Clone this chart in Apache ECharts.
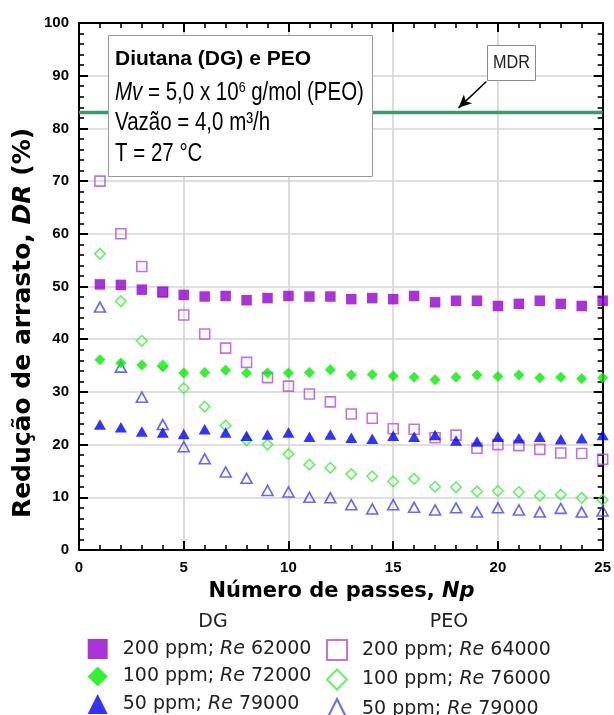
<!DOCTYPE html>
<html>
<head>
<meta charset="utf-8">
<script src="https://cdn.jsdelivr.net/npm/echarts@6/dist/echarts.min.js"></script>
<style>
html,body{margin:0;padding:0;background:#fff;}
#chart{width:614px;height:715px;}
</style>
</head>
<body>
<div id="chart"></div>
<script>
// ---- data ----
const npasses = [1,2,3,4,5,6,7,8,9,10,11,12,13,14,15,16,17,18,19,20,21,22,23,24,25];
const dg200  = [50.4,50.3,49.4,48.9,48.4,48.1,48.2,47.4,47.8,48.2,48.1,48.1,47.6,47.8,47.6,48.2,47.0,47.3,47.3,46.3,46.7,47.3,46.7,46.3,47.3];
const dg100  = [36.1,35.5,35.1,34.8,33.6,33.7,34.1,33.6,33.6,33.6,33.7,34.2,33.2,33.3,33.0,32.8,32.3,32.8,33.2,32.9,33.2,32.7,32.8,32.5,32.7];
const dg50   = [23.8,23.3,22.5,22.3,22.0,22.9,22.3,21.7,21.9,22.3,21.5,21.9,21.3,21.1,21.7,21.5,21.8,20.8,20.6,21.5,21.2,21.5,21.0,21.2,21.8];
const peo200 = [70.0,60.0,53.8,49.0,44.6,41.0,38.3,35.6,32.7,31.1,29.6,28.1,25.8,25.0,23.0,22.9,21.3,21.8,19.3,20.0,19.8,19.1,18.4,18.3,17.2];
const peo100 = [56.2,47.2,39.7,35.0,30.7,27.2,23.6,20.8,20.0,18.2,16.2,15.6,14.4,14.0,13.0,13.5,12.0,11.9,11.1,11.2,11.0,10.3,10.5,9.9,9.5];
const peo50  = [46.1,34.7,29.0,23.8,19.6,17.3,14.8,13.6,11.3,11.0,10.0,9.9,8.6,7.8,8.6,8.1,7.6,8.0,7.2,8.0,7.6,7.2,7.9,7.2,7.4];
const mdrValue = 83;
const mdrRange = [0, 25];
const xTicks = [0, 25, 5];   // min, max, interval
const yTicks = [0, 100, 10]; // min, max, interval

const dgNames  = ['DG 200 ppm; Re 62000','DG 100 ppm; Re 72000','DG 50 ppm; Re 79000'];
const peoNames = ['PEO 200 ppm; Re 64000','PEO 100 ppm; Re 76000','PEO 50 ppm; Re 79000'];

// ---- styling ----
const C = {
  dg200:'#9400d0', peo200:'#b44fd6',
  dg100:'#00ee00', peo100:'#3cf03c',
  dg50:'#0000ff',  peo50:'#4040ff',
  mdr:'#3a9a6c'
};
const toPts = arr => npasses.map((n,i)=>[n, arr[i]]);
const hollow = c => ({color:'rgba(255,255,255,0)', borderColor:c, borderWidth:1.6});

const chart = echarts.init(document.getElementById('chart'), null, {renderer:'canvas'});

const axisCommon = {
  type:'value',
  axisLine:{show:true, onZero:false, lineStyle:{color:'#000', width:2}},
  axisTick:{show:true, inside:true, length:9, lineStyle:{color:'#000', width:2}},
  minorTick:{show:true, splitNumber:5, length:5, lineStyle:{color:'#000', width:1.6}},
  minorSplitLine:{show:false}
};
const tickFont = {color:'#000', fontWeight:'bold', fontSize:15, fontFamily:'Liberation Sans, Arial, sans-serif'};

const legendText = {
  color:'#222', fontSize:19, fontFamily:'DejaVu Sans, sans-serif', lineHeight:20,
  padding:[0,0,0,10],
  rich:{ i:{fontStyle:'italic', color:'#222', fontSize:19, fontFamily:'DejaVu Sans, sans-serif', lineHeight:20} }
};
const legendFmt = name => name.replace(/^(DG|PEO) /,'').replace('Re','{i|Re}');

const option = {
  animation:false,
  backgroundColor:'#fff',
  grid:{left:79, top:23, width:526, height:527, containLabel:false},
  xAxis:[
    Object.assign({}, axisCommon, {position:'bottom', min:xTicks[0], max:xTicks[1], interval:xTicks[2],
      axisLabel:Object.assign({margin:10}, tickFont),
      splitLine:{show:true, lineStyle:{color:'#d4d4d4', width:1.6}}}),
    Object.assign({}, axisCommon, {position:'top', min:xTicks[0], max:xTicks[1], interval:xTicks[2],
      axisLabel:{show:false}, splitLine:{show:false}})
  ],
  yAxis:[
    Object.assign({}, axisCommon, {position:'left', min:yTicks[0], max:yTicks[1], interval:yTicks[2],
      axisLabel:Object.assign({margin:10}, tickFont),
      splitLine:{show:true, lineStyle:{color:'#d4d4d4', width:1.6}}}),
    Object.assign({}, axisCommon, {position:'right', min:yTicks[0], max:yTicks[1], interval:yTicks[2],
      axisLabel:{show:false}, splitLine:{show:false}})
  ],
  legend:[
    {
      orient:'vertical', left:87.7, top:639, height:110, width:240, itemWidth:20, itemHeight:20, itemGap:7.5,
      padding:0, selectedMode:false, formatter:legendFmt, textStyle:legendText,
      data:[
        {name:dgNames[0], icon:'rect', itemStyle:{color:C.dg200, borderWidth:0}},
        {name:dgNames[1], icon:'diamond', itemStyle:{color:C.dg100, borderWidth:0}},
        {name:dgNames[2], icon:'triangle', itemStyle:{color:C.dg50, borderWidth:0}}
      ]
    },
    {
      orient:'vertical', left:326, top:639, height:110, width:250, itemWidth:20, itemHeight:20, itemGap:7.5,
      padding:0, selectedMode:false, formatter:legendFmt, textStyle:legendText,
      data:[
        {name:peoNames[0], icon:'rect', itemStyle:{color:'#fff', borderColor:C.peo200, borderWidth:2}},
        {name:peoNames[1], icon:'diamond', itemStyle:{color:'#fff', borderColor:C.peo100, borderWidth:2}},
        {name:peoNames[2], icon:'triangle', itemStyle:{color:'#fff', borderColor:C.peo50, borderWidth:2}}
      ]
    }
  ],
  series:[
    {
      name:'MDR', type:'line', data:[[mdrRange[0], mdrValue],[mdrRange[1], mdrValue]],
      symbol:'none', lineStyle:{color:C.mdr, width:3.5}, z:1, silent:true,
      markLine:{
        silent:true, symbol:['none','arrow'], symbolSize:[9,13],
        lineStyle:{color:'#000', width:1.6, type:'solid'}, label:{show:false},
        data:[[{coord:[19.45, 88.9]},{coord:[18.12, 83.9]}]]
      }
    },
    {name:peoNames[0], type:'scatter', data:toPts(peo200), symbol:'rect', symbolSize:10, itemStyle:hollow(C.peo200), z:2},
    {name:peoNames[1], type:'scatter', data:toPts(peo100), symbol:'diamond', symbolSize:10.5, itemStyle:hollow(C.peo100), z:2},
    {name:peoNames[2], type:'scatter', data:toPts(peo50), symbol:'triangle', symbolSize:[11,10], itemStyle:hollow(C.peo50), z:2},
    {name:dgNames[0], type:'scatter', data:toPts(dg200), symbol:'rect', symbolSize:10.5, itemStyle:{color:C.dg200}, z:3},
    {name:dgNames[1], type:'scatter', data:toPts(dg100), symbol:'diamond', symbolSize:11, itemStyle:{color:C.dg100}, z:3},
    {name:dgNames[2], type:'scatter', data:toPts(dg50), symbol:'triangle', symbolSize:[12,10.5], itemStyle:{color:C.dg50}, z:3}
  ],
  graphic:[
    // y-axis title
    {type:'text', x:23, y:323, rotation:Math.PI/2, z:10,
      style:{text:'Redução de arrasto, {i|DR} (%)', fill:'#000', fontSize:25, fontWeight:'bold',
        fontFamily:'DejaVu Sans, sans-serif', align:'center', verticalAlign:'middle',
        rich:{i:{fontSize:25, fontWeight:'bold', fontStyle:'italic', fontFamily:'DejaVu Sans, sans-serif', fill:'#000'}}}},
    // x-axis title
    {type:'text', x:341.5, y:592, z:10,
      style:{text:'Número de passes, {i|Np}', fill:'#000', fontSize:21, fontWeight:'bold',
        fontFamily:'DejaVu Sans, sans-serif', align:'center', verticalAlign:'middle',
        rich:{i:{fontSize:21, fontWeight:'bold', fontStyle:'italic', fontFamily:'DejaVu Sans, sans-serif', fill:'#000'}}}},
    // legend group headings
    {type:'text', x:213, y:622, z:10,
      style:{text:'DG', fill:'#222', fontSize:19, fontFamily:'DejaVu Sans, sans-serif', align:'center', verticalAlign:'middle'}},
    {type:'text', x:449, y:622, z:10,
      style:{text:'PEO', fill:'#222', fontSize:19, fontFamily:'DejaVu Sans, sans-serif', align:'center', verticalAlign:'middle'}},
    // info box
    {type:'rect', shape:{x:108.5, y:35.5, width:264, height:141}, z:20,
      style:{fill:'#fff', stroke:'#9a9a9a', lineWidth:1}},
    {type:'text', x:115, y:59.5, z:21,
      style:{text:'Diutana (DG) e PEO', fill:'#000', fontSize:21, fontWeight:'bold',
        fontFamily:'Liberation Sans, Arial, sans-serif', align:'left', verticalAlign:'middle'}},
    {type:'text', x:115, y:93, scaleX:0.82, z:21,
      style:{text:'{i|Mv} = 5,0 x 10{s|6} g/mol (PEO)', fill:'#000', fontSize:25,
        fontFamily:'Liberation Sans, Arial, sans-serif', align:'left', verticalAlign:'middle',
        rich:{
          i:{fontSize:25, fontStyle:'italic', fontFamily:'Liberation Sans, Arial, sans-serif', fill:'#000'},
          s:{fontSize:15, fontFamily:'Liberation Sans, Arial, sans-serif', fill:'#000', verticalAlign:'top'}
        }}},
    {type:'text', x:115, y:123.5, scaleX:0.82, z:21,
      style:{text:'Vazão = 4,0 m³/h', fill:'#000', fontSize:25,
        fontFamily:'Liberation Sans, Arial, sans-serif', align:'left', verticalAlign:'middle'}},
    {type:'text', x:115, y:154, scaleX:0.82, z:21,
      style:{text:'T = 27 °C', fill:'#000', fontSize:25,
        fontFamily:'Liberation Sans, Arial, sans-serif', align:'left', verticalAlign:'middle'}},
    // MDR label box
    {type:'rect', shape:{x:487.5, y:45.5, width:48, height:35}, z:20,
      style:{fill:'#fff', stroke:'#8a8a8a', lineWidth:1}},
    {type:'text', x:511.5, y:63.5, scaleX:0.9, z:21,
      style:{text:'MDR', fill:'#222', fontSize:18, fontFamily:'Liberation Sans, Arial, sans-serif',
        align:'center', verticalAlign:'middle'}}
  ]
};
chart.setOption(option);
</script>
</body>
</html>
